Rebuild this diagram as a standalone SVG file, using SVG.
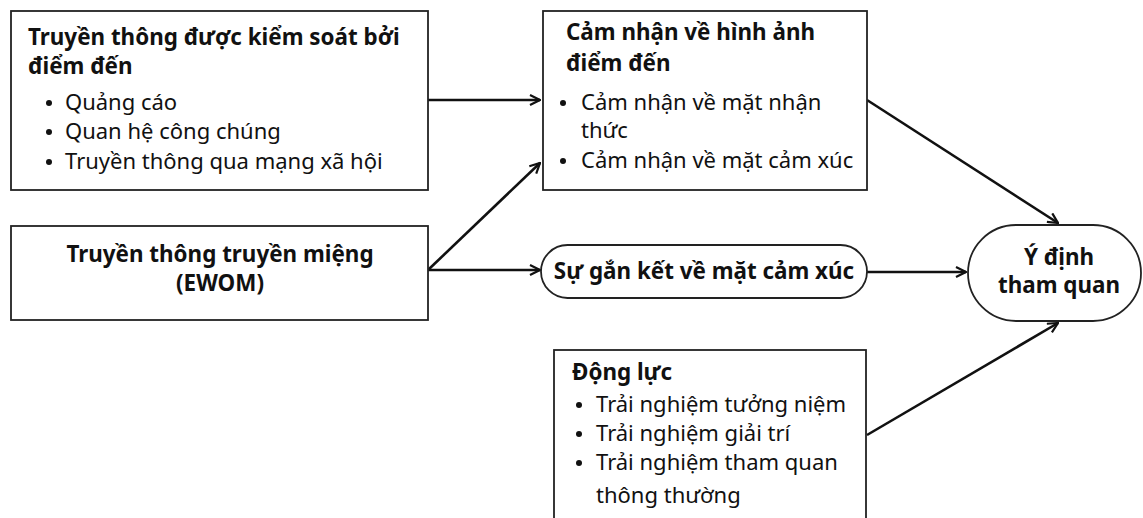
<svg xmlns="http://www.w3.org/2000/svg" width="1143" height="518" viewBox="0 0 1143 518">
<defs>
<style>
.box{fill:#fff;stroke:#222;stroke-width:1.8}
.t{font-family:"Noto Sans","Open Sans",sans-serif;font-size:22px;fill:#111}
.b{font-family:"Noto Sans","Open Sans",sans-serif;font-size:22.4px;font-weight:bold;fill:#111}
.dot{fill:#111}
.c{stroke:#111;stroke-width:2.6;fill:none;marker-end:url(#ah)}
</style>
<marker id="ah" viewBox="0 0 12 12" refX="11" refY="6" markerWidth="12" markerHeight="12" markerUnits="userSpaceOnUse" orient="auto">
<path d="M1,1 L11,6 L1,11" fill="none" stroke="#111" stroke-width="2.2"/>
</marker>
</defs>
<rect width="1143" height="518" fill="#fff"/>
<g id="connectors">
<line class="c" x1="428" y1="100" x2="540" y2="100"/>
<line class="c" x1="428" y1="270" x2="540" y2="163"/>
<line class="c" x1="428" y1="270" x2="540" y2="270"/>
<line class="c" x1="867" y1="100" x2="1058" y2="223"/>
<line class="c" x1="867" y1="272" x2="966" y2="272"/>
<line class="c" x1="867" y1="435" x2="1058" y2="323"/>
</g>
<g id="n1">
<rect class="box" x="11" y="11" width="417" height="179"/>
<text class="b" x="28" y="45">Truyền thông được kiểm soát bởi</text>
<text class="b" x="28" y="74">điểm đến</text>
<circle class="dot" cx="49" cy="103" r="3"/><text class="t" x="65" y="110">Quảng cáo</text>
<circle class="dot" cx="49" cy="132" r="3"/><text class="t" x="65" y="139">Quan hệ công chúng</text>
<circle class="dot" cx="49" cy="162" r="3"/><text class="t" x="65" y="169">Truyền thông qua mạng xã hội</text>
</g>
<g id="n2">
<rect class="box" x="543" y="11" width="324" height="179"/>
<text class="b" x="566" y="40">Cảm nhận về hình ảnh</text>
<text class="b" x="566" y="71">điểm đến</text>
<circle class="dot" cx="563" cy="103" r="3"/><text class="t" x="581" y="110">Cảm nhận về mặt nhận</text>
<text class="t" x="581" y="138">thức</text>
<circle class="dot" cx="563" cy="161" r="3"/><text class="t" x="581" y="168">Cảm nhận về mặt cảm xúc</text>
</g>
<g id="n3">
<rect class="box" x="11" y="226" width="417" height="94"/>
<text class="b" x="220" y="262" text-anchor="middle">Truyền thông truyền miệng</text>
<text class="b" x="220" y="291" text-anchor="middle">(EWOM)</text>
</g>
<g id="n4">
<rect class="box" x="541" y="245" width="326" height="53" rx="26.5"/>
<text class="b" x="704" y="279" text-anchor="middle">Sự gắn kết về mặt cảm xúc</text>
</g>
<g id="n5">
<rect class="box" x="968" y="225" width="173" height="96" rx="48"/>
<text class="b" x="1059" y="265" text-anchor="middle">Ý định</text>
<text class="b" x="1059" y="293" text-anchor="middle">tham quan</text>
</g>
<g id="n6">
<rect class="box" x="554" y="350" width="312" height="180"/>
<text class="b" x="572" y="380">Động lực</text>
<circle class="dot" cx="579" cy="405" r="3"/><text class="t" x="596" y="412">Trải nghiệm tưởng niệm</text>
<circle class="dot" cx="579" cy="434" r="3"/><text class="t" x="596" y="441">Trải nghiệm giải trí</text>
<circle class="dot" cx="579" cy="463" r="3"/><text class="t" x="596" y="470">Trải nghiệm tham quan</text>
<text class="t" x="596" y="503">thông thường</text>
</g>
</svg>
